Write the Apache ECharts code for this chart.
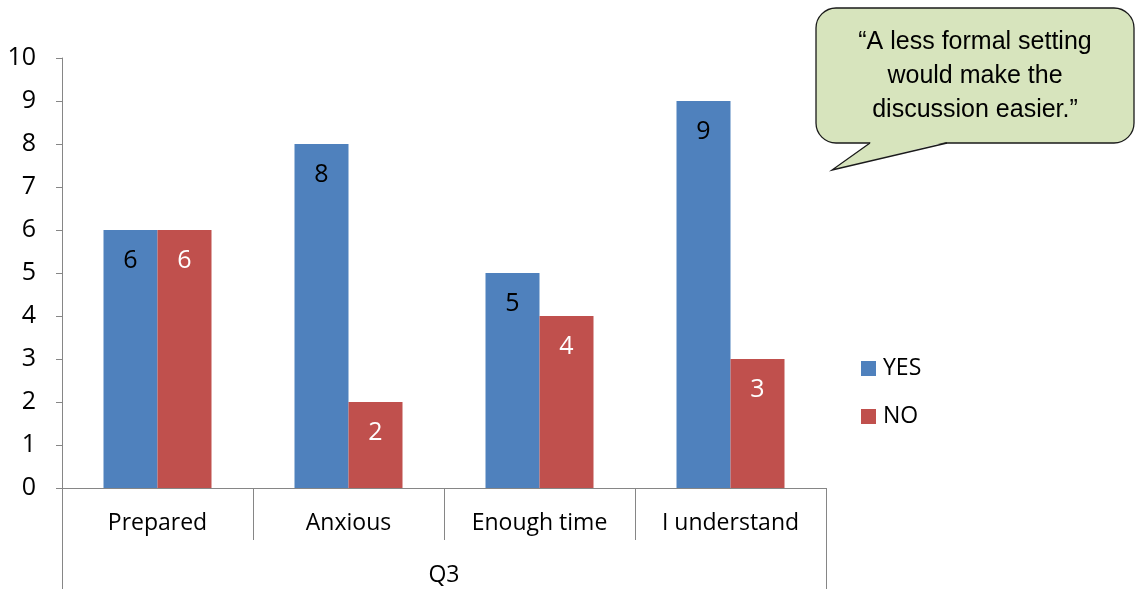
<!DOCTYPE html>
<html>
<head>
<meta charset="utf-8">
<script src="https://cdn.jsdelivr.net/npm/echarts@6/dist/echarts.min.js"></script>
<style>
  html, body { margin: 0; padding: 0; background: #fff; }
  #chart { width: 1137px; height: 589px; }
</style>
</head>
<body>
<div id="chart"></div>
<script>
// Survey question Q3: answers per statement
const categories = ['Prepared', 'Anxious', 'Enough time', 'I understand'];
const groupLabel = ['Q3'];
const yesValues = [6, 8, 5, 9];
const noValues = [6, 2, 4, 3];
const quoteLines = ['\u201CA less formal setting', 'would make the', 'discussion easier.\u201D'];

const FONT = '"Open Sans", Lato, sans-serif';
const TEXT_SIZE = 23;     // category names, group name, legend
const NUMBER_SIZE = 25;   // value axis and bar values
const AXIS_COLOR = '#868686';
const BUBBLE_FILL = '#d7e4bd';
const BUBBLE_STROKE = '#1a1a1a';

const chart = echarts.init(document.getElementById('chart'), null, { renderer: 'canvas' });

const option = {
  animation: false,
  textStyle: { fontFamily: FONT },
  grid: { left: 62, right: 311, top: 58, bottom: 101, containLabel: false },
  legend: {
    orient: 'vertical',
    left: 861,
    top: 357,
    padding: 0,
    itemWidth: 15,
    itemHeight: 15,
    itemGap: 25,
    icon: 'rect',
    textStyle: { fontFamily: FONT, fontSize: TEXT_SIZE, color: '#000', padding: [0, 0, 0, 2] },
    data: ['YES', 'NO']
  },
  xAxis: [
    {
      type: 'category',
      data: categories,
      position: 'bottom',
      axisLine: { show: true, lineStyle: { color: AXIS_COLOR, width: 1 } },
      axisTick: { show: true, length: 52, interval: 0, lineStyle: { color: AXIS_COLOR } },
      axisLabel: { fontFamily: FONT, fontSize: TEXT_SIZE, color: '#000', margin: 24, interval: 0 }
    },
    {
      type: 'category',
      data: groupLabel,
      position: 'bottom',
      offset: 52,
      axisLine: { show: false },
      axisTick: { show: true, length: 50, interval: 0, lineStyle: { color: AXIS_COLOR } },
      axisLabel: { fontFamily: FONT, fontSize: TEXT_SIZE, color: '#000', margin: 24 }
    }
  ],
  yAxis: {
    type: 'value',
    min: 0,
    max: 10,
    interval: 1,
    axisLine: { show: true, lineStyle: { color: AXIS_COLOR, width: 1 } },
    axisTick: { show: true, length: 6, lineStyle: { color: AXIS_COLOR } },
    splitLine: { show: false },
    axisLabel: { fontFamily: FONT, fontSize: NUMBER_SIZE, color: '#000', margin: 26 }
  },
  series: [
    {
      name: 'YES',
      type: 'bar',
      xAxisIndex: 0,
      data: yesValues,
      barWidth: 54,
      barGap: '0%',
      itemStyle: { color: '#4f81bd' },
      label: {
        show: true, position: 'insideTop', distance: 18,
        fontFamily: FONT, fontSize: NUMBER_SIZE, color: '#000'
      }
    },
    {
      name: 'NO',
      type: 'bar',
      xAxisIndex: 0,
      data: noValues,
      barWidth: 54,
      barGap: '0%',
      itemStyle: { color: '#c0504d' },
      label: {
        show: true, position: 'insideTop', distance: 18,
        fontFamily: FONT, fontSize: NUMBER_SIZE, color: '#fff'
      }
    }
  ],
  graphic: [
    // speech bubble body
    {
      type: 'rect',
      shape: { x: 816, y: 8, width: 318, height: 135, r: 20 },
      style: { fill: BUBBLE_FILL, stroke: BUBBLE_STROKE, lineWidth: 1.3 }
    },
    // tail fill, covering the bubble's bottom edge where it opens
    {
      type: 'polygon',
      shape: { points: [[871, 142], [832, 170], [946, 142]] },
      style: { fill: BUBBLE_FILL }
    },
    {
      type: 'polyline',
      shape: { points: [[870, 143], [832, 170], [947, 143]] },
      style: { fill: null, stroke: BUBBLE_STROKE, lineWidth: 1.3 }
    },
    {
      type: 'text',
      x: 975,
      y: 76,
      style: {
        text: quoteLines.join('\n'),
        fontFamily: '"Liberation Sans", Arial, sans-serif',
        fontSize: 25,
        lineHeight: 34,
        fill: '#000',
        align: 'center',
        verticalAlign: 'middle'
      }
    }
  ]
};

chart.setOption(option);
</script>
</body>
</html>
